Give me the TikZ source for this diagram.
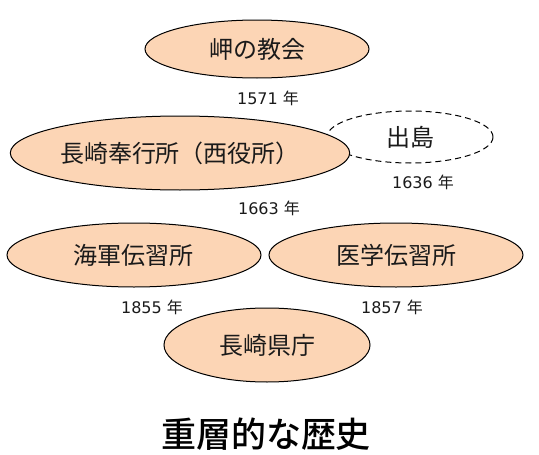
\documentclass[tikz,border=0pt]{standalone}
\usepackage{fontspec}
\newfontfamily\cjk{Noto Sans CJK JP}
\newfontfamily\cjkb{Noto Sans CJK JP Medium}
\newfontfamily\dv{DejaVu Sans}
\usetikzlibrary{shapes.geometric}
\definecolor{peach}{HTML}{FCD5B5}
\definecolor{ink}{HTML}{1A1A1A}
\tikzset{
  era/.style={ellipse, draw=black, line width=1pt, fill=peach, inner sep=0pt, text=ink, font=\cjk\fontsize{24}{28}\selectfont},
  eradash/.style={ellipse, draw=black, line width=1pt, dash pattern=on 6pt off 4pt, fill=white, inner sep=0pt, text=ink, font=\cjk\fontsize{24}{28}\selectfont},
  year/.style={inner sep=0pt, text=ink, font=\dv\fontsize{16}{18}\selectfont},
  titletext/.style={inner sep=0pt, text=black, font=\cjkb\fontsize{35}{40}\selectfont}
}
\newcommand{\nen}{\ {\cjk 年}}
\begin{document}
\begin{tikzpicture}[x=1pt,y=-1pt]
\useasboundingbox (0,0) rectangle (539,455);
\node[era, minimum width=224pt, minimum height=58pt] (church) at (257,49) {岬の教会};
\node[eradash, minimum width=166pt, minimum height=52pt] (dejima) at (410,137) {出島};
\node[era, minimum width=324pt, minimum height=74pt] (bugyo) at (180,153) {長崎奉行所（西役所）};
\node[era, minimum width=254pt, minimum height=64pt] (kaigun) at (134,255) {海軍伝習所};
\node[era, minimum width=254pt, minimum height=64pt] (igaku) at (396,255) {医学伝習所};
\node[era, minimum width=206pt, minimum height=74pt] (kencho) at (267,345) {長崎県庁};
\node[year] (y1571) at (268,98) {1571\nen};
\node[year] (y1636) at (423,182) {1636\nen};
\node[year] (y1663) at (269,208) {1663\nen};
\node[year] (y1855) at (152,307) {1855\nen};
\node[year] (y1857) at (392,307) {1857\nen};
\node[titletext] (title) at (266,434) {重層的な歴史};
\end{tikzpicture}
\end{document}
